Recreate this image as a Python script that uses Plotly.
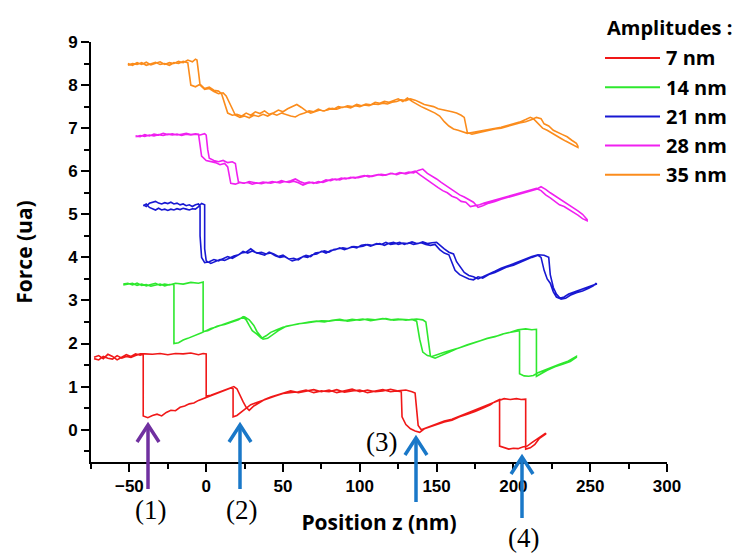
import plotly.graph_objects as go

# ---------------- data ----------------
amplitudes = ["7 nm", "14 nm", "21 nm", "28 nm", "35 nm"]
colors = ["#f01818", "#2ee82e", "#1818d2", "#f020f0", "#fb8c1c"]

# 7 nm : two branches of the hysteresis loop (x in nm, force in ua)
red_a = [(-73,1.68),(-70,1.72),(-67,1.65),(-64,1.75),(-61,1.7),(-58,1.62),(-55,1.68),(-52,1.74),(-49,1.7),(-46,1.76),(-43,1.73),(-41,1.75),
         (-41,0.32),(-38,0.28),(-35,0.33),(-32,0.36),(-29,0.32),(-26,0.4),(-23,0.45),(-20,0.44),(-17,0.52),(-14,0.55),(-11,0.6),(-8,0.62),(-5,0.68),(-2,0.72),
         (1,0.76),(4,0.8),(7,0.84),(10,0.88),(13,0.92),(16,0.97),(17.5,0.95),(17.5,0.3),(20,0.33),(23,0.42),(26,0.5),(29,0.58),(32,0.62),(35,0.66),(38,0.7),(41,0.74),(45,0.78),(50,0.84),
         (55,0.86),(60,0.88),(65,0.92),(70,0.86),(75,0.9),(80,0.88),(85,0.93),(90,0.87),(95,0.9),(100,0.92),(105,0.86),(110,0.9),(115,0.93),(120,0.88),(124,0.9),(127,0.88),
         (127.5,0.3),(130,0.12),(133,0.02),(136,-0.03),(139,-0.06),(142,0.02),(145,0.06),(150,0.12),(155,0.18),(160,0.22),(165,0.3),(170,0.36),(175,0.42),(180,0.5),(185,0.58),(188,0.65),(191,0.7),
         (191,-0.38),(194,-0.42),(197,-0.45),(200,-0.43),(203,-0.44),(206,-0.4),(209,-0.38),(212,-0.3),(215,-0.22),(218,-0.15),(221,-0.08)]
red_b = [(-73,1.65),(-70,1.62),(-67,1.7),(-64,1.66),(-61,1.64),(-58,1.72),(-55,1.66),(-52,1.7),(-49,1.68),(-46,1.72),(-43,1.76),(-40,1.76),(-35,1.75),(-30,1.77),(-25,1.74),(-20,1.77),(-15,1.76),(-10,1.78),(-5,1.74),(-2,1.77),(0,1.76),
         (0,0.78),(3,0.8),(6,0.84),(9,0.88),(12,0.92),(15,0.96),(18,1.0),(20,0.95),(22,0.8),(24,0.65),(26,0.52),(28,0.45),(31,0.55),(34,0.62),(38,0.7),(42,0.76),(46,0.8),(50,0.85),
         (55,0.9),(60,0.86),(65,0.9),(70,0.93),(75,0.88),(80,0.92),(85,0.86),(90,0.9),(95,0.94),(100,0.88),(105,0.92),(110,0.88),(115,0.9),(120,0.94),(125,0.9),(130,0.92),(134,0.88),(136,0.85),
         (137,0.5),(138,0.1),(140,0.0),(143,0.04),(146,0.08),(150,0.13),(155,0.2),(160,0.24),(165,0.32),(170,0.38),(175,0.45),(180,0.52),(185,0.6),(190,0.67),(194,0.72),(198,0.7),(202,0.72),(205,0.7),(208,0.71),
         (208,-0.45),(211,-0.42),(214,-0.34),(217,-0.2),(221,-0.1)]

# 14 nm
green_a = [(-54,3.38),(-51,3.4),(-48,3.36),(-45,3.4),(-42,3.35),(-39,3.37),(-36,3.33),(-33,3.36),(-30,3.38),(-27,3.34),(-24,3.37),(-21,3.38),
           (-21,2.0),(-18,2.02),(-15,2.08),(-12,2.12),(-9,2.16),(-6,2.2),(-3,2.25),(0,2.3),(3,2.35),(6,2.38),(9,2.42),(12,2.44),(15,2.48),(18,2.52),(21,2.55),(24,2.62),
           (26,2.55),(28,2.42),(30,2.3),(33,2.22),(36,2.12),(39,2.18),(42,2.26),(46,2.32),(50,2.38),(55,2.42),(60,2.46),(65,2.48),(70,2.5),(75,2.53),(80,2.52),(85,2.55),(90,2.53),
           (95,2.56),(100,2.54),(105,2.57),(110,2.55),(115,2.58),(120,2.55),(125,2.57),(130,2.54),(134,2.56),(137,2.52),(139,2.1),(141,1.8),(144,1.72),(147,1.7),(150,1.74),
           (155,1.8),(160,1.85),(165,1.9),(170,1.97),(175,2.02),(180,2.08),(185,2.14),(190,2.18),(195,2.24),(200,2.28),(204,2.3),
           (204,1.3),(207,1.25),(210,1.24),(213,1.26),(216,1.32),(220,1.38),(225,1.45),(230,1.52),(235,1.58),(241,1.7)]
green_b = [(-54,3.36),(-51,3.38),(-48,3.4),(-45,3.35),(-42,3.38),(-39,3.34),(-36,3.37),(-33,3.4),(-30,3.35),(-27,3.38),(-24,3.36),(-20,3.4),(-15,3.38),(-10,3.42),(-5,3.4),(-2,3.43),
           (-2,2.28),(1,2.3),(4,2.34),(7,2.4),(10,2.43),(13,2.46),(16,2.5),(19,2.54),(22,2.58),(25,2.62),(28,2.55),(31,2.42),(33,2.28),(35,2.18),(37,2.1),(40,2.12),(43,2.2),(47,2.3),
           (52,2.4),(57,2.44),(62,2.47),(67,2.5),(72,2.52),(77,2.5),(82,2.54),(87,2.56),(92,2.52),(97,2.55),(102,2.57),(107,2.53),(112,2.56),(117,2.58),(122,2.54),(127,2.56),(132,2.55),
           (137,2.57),(141,2.55),(143,2.5),(145,2.0),(146,1.7),(149,1.66),(153,1.72),(158,1.8),(163,1.88),(168,1.94),(173,2.0),(178,2.06),(183,2.12),(188,2.16),(193,2.22),(198,2.26),
           (203,2.32),(208,2.34),(212,2.32),(215,2.33),(215,1.24),(218,1.3),(222,1.38),(227,1.46),(232,1.52),(237,1.58),(241,1.68)]

# 21 nm
blue_a = [(-41,5.22),(-39,5.18),(-37,5.26),(-35,5.28),(-33,5.3),(-31,5.26),(-29,5.24),(-27,5.27),(-25,5.25),(-23,5.28),(-21,5.24),(-19,5.26),(-17,5.22),(-15,5.24),(-13,5.2),(-11,5.22),(-9,5.18),(-7,5.22),(-5,5.24),(-4,5.18),
          (-4,4.5),(-3,4.0),(-1,3.88),(2,3.9),(5,3.95),(8,3.92),(11,3.98),(14,4.02),(17,3.98),(20,4.05),(23,4.1),(26,4.12),(29,4.2),(32,4.12),(35,4.08),(38,4.05),(41,4.12),(44,4.08),(47,4.02),
          (50,4.05),(53,3.98),(56,3.92),(59,3.95),(62,4.0),(65,4.05),(68,4.02),(71,4.1),(74,4.12),(77,4.15),(80,4.12),(83,4.18),(86,4.2),(89,4.22),(92,4.2),(95,4.25),(98,4.22),(101,4.28),
          (104,4.3),(107,4.26),(110,4.3),(113,4.32),(116,4.28),(119,4.33),(122,4.35),(125,4.3),(128,4.33),(131,4.32),(134,4.36),(137,4.32),(140,4.34),(143,4.3),(146,4.28),(149,4.3),
          (152,4.18),(155,4.1),(158,4.06),(160,3.9),(162,3.7),(165,3.6),(168,3.55),(171,3.5),(174,3.48),(177,3.55),(180,3.52),(184,3.6),(188,3.65),(192,3.72),(196,3.78),(200,3.82),
          (204,3.88),(208,3.95),(212,4.0),(216,4.05),(218,4.0),(220,3.7),(222,3.5),(224,3.4),(226,3.2),(228,3.08),(230,3.05),(233,3.08),(236,3.15),(240,3.2),(244,3.25),(248,3.3),(251,3.35),(254,3.38)]
blue_b = [(-41,5.2),(-39,5.24),(-37,5.16),(-35,5.13),(-33,5.1),(-31,5.14),(-29,5.1),(-27,5.12),(-25,5.09),(-23,5.12),(-21,5.1),(-19,5.13),(-17,5.11),(-15,5.14),(-13,5.12),(-11,5.1),(-9,5.13),(-7,5.12),(-5,5.18),(-3,5.25),(-1,5.22),
          (-1,4.2),(0,3.92),(3,3.86),(6,3.9),(9,3.95),(12,3.93),(15,3.98),(18,4.03),(21,4.06),(24,4.14),(27,4.1),(30,4.15),(33,4.1),(36,4.12),(39,4.08),(42,4.1),(45,4.04),(48,4.0),(51,4.02),
          (54,3.96),(57,3.98),(60,3.94),(63,4.02),(66,4.0),(69,4.06),(72,4.08),(75,4.14),(78,4.1),(81,4.16),(84,4.18),(87,4.22),(90,4.18),(93,4.22),(96,4.25),(99,4.24),(102,4.26),(105,4.3),
          (108,4.28),(111,4.32),(114,4.3),(117,4.35),(120,4.3),(123,4.32),(126,4.35),(129,4.3),(132,4.34),(135,4.3),(138,4.32),(141,4.36),(144,4.32),(147,4.34),(150,4.35),(152,4.3),(155,4.2),
          (158,4.12),(161,4.08),(163,3.9),(166,3.75),(168,3.65),(171,3.58),(174,3.55),(177,3.5),(180,3.56),(184,3.62),(188,3.68),(192,3.75),(196,3.8),(200,3.85),(204,3.9),(208,3.96),(212,4.02),
          (216,4.06),(220,4.05),(223,4.0),(224,3.6),(226,3.3),(228,3.15),(231,3.03),(234,3.05),(237,3.12),(241,3.18),(245,3.22),(249,3.28),(252,3.34),(254,3.4)]

# 28 nm
magenta_a = [(-46,6.82),(-43,6.8),(-40,6.85),(-37,6.82),(-34,6.86),(-31,6.84),(-28,6.88),(-25,6.85),(-22,6.87),(-19,6.84),(-16,6.86),(-13,6.88),(-10,6.85),(-7,6.87),(-5,6.86),
             (-4,6.6),(-3,6.35),(0,6.25),(3,6.22),(6,6.2),(9,6.15),(12,6.18),(14,6.1),(15,5.9),(16,5.72),(19,5.7),(22,5.74),(25,5.72),(28,5.76),(31,5.74),(34,5.72),(37,5.75),(40,5.73),
             (43,5.76),(46,5.74),(49,5.78),(52,5.75),(55,5.78),(58,5.82),(61,5.76),(64,5.72),(67,5.75),(70,5.72),(73,5.76),(76,5.74),(79,5.78),(82,5.82),(85,5.8),(88,5.84),(91,5.82),
             (94,5.86),(97,5.84),(100,5.88),(103,5.9),(106,5.87),(109,5.9),(112,5.92),(115,5.9),(118,5.93),(121,5.95),(124,5.92),(127,5.96),(130,5.94),(133,5.97),(136,6.0),(139,5.92),
             (142,5.85),(145,5.78),(148,5.7),(151,5.62),(154,5.55),(157,5.5),(160,5.42),(163,5.38),(166,5.3),(169,5.28),(172,5.18),(175,5.2),(178,5.22),(181,5.26),(185,5.3),(189,5.34),
             (193,5.38),(197,5.42),(201,5.46),(205,5.5),(209,5.55),(212,5.58),(215,5.6),(218,5.55),(221,5.45),(224,5.38),(227,5.3),(230,5.22),(233,5.18),(236,5.12),(239,5.05),(242,4.98),(245,4.9),(248,4.85)]
magenta_b = [(-46,6.8),(-43,6.83),(-40,6.81),(-37,6.84),(-34,6.82),(-31,6.85),(-28,6.83),(-25,6.86),(-22,6.84),(-19,6.86),(-16,6.83),(-13,6.86),(-10,6.84),(-7,6.86),(-4,6.84),(-1,6.87),(0,6.84),
             (1,6.5),(2,6.3),(5,6.25),(8,6.22),(11,6.25),(14,6.2),(17,6.22),(19,6.18),(20,5.95),(21,5.75),(24,5.72),(27,5.74),(30,5.7),(33,5.73),(36,5.71),(39,5.74),(42,5.72),(45,5.75),
             (48,5.73),(51,5.76),(54,5.74),(57,5.77),(60,5.73),(63,5.68),(66,5.72),(69,5.74),(72,5.72),(75,5.75),(78,5.8),(81,5.78),(84,5.82),(87,5.8),(90,5.84),(93,5.83),(96,5.86),
             (99,5.85),(102,5.88),(105,5.9),(108,5.88),(111,5.91),(114,5.93),(117,5.91),(120,5.95),(123,5.93),(126,5.97),(129,5.95),(132,5.98),(135,5.96),(138,6.02),(141,6.05),(144,5.95),
             (147,5.88),(150,5.82),(153,5.74),(156,5.68),(159,5.6),(162,5.52),(165,5.45),(168,5.4),(171,5.35),(174,5.28),(177,5.16),(180,5.2),(184,5.26),(188,5.3),(192,5.35),(196,5.4),
             (200,5.44),(204,5.48),(208,5.52),(212,5.55),(215,5.58),(218,5.64),(221,5.58),(224,5.5),(227,5.42),(230,5.34),(233,5.28),(236,5.2),(239,5.15),(242,5.08),(245,5.0),(248,4.88)]

# 35 nm
orange_a = [(-51,8.46),(-48,8.5),(-45,8.48),(-42,8.52),(-39,8.46),(-36,8.5),(-33,8.53),(-30,8.48),(-27,8.5),(-24,8.46),(-21,8.52),(-18,8.5),(-15,8.55),(-12,8.52),
            (-11,8.2),(-10,8.0),(-7,7.96),(-4,8.02),(-1,7.92),(2,7.95),(5,7.88),(8,7.86),(10,7.8),(12,7.6),(14,7.35),(17,7.3),(20,7.32),(23,7.28),(26,7.35),(29,7.3),(32,7.38),
            (35,7.34),(38,7.4),(41,7.32),(44,7.36),(47,7.42),(50,7.38),(53,7.45),(56,7.5),(59,7.55),(62,7.48),(65,7.4),(68,7.35),(71,7.38),(74,7.42),(77,7.4),(80,7.46),(83,7.44),
            (86,7.5),(89,7.48),(92,7.52),(95,7.5),(98,7.55),(101,7.52),(104,7.56),(107,7.54),(110,7.6),(113,7.58),(116,7.62),(119,7.6),(122,7.64),(125,7.68),(128,7.62),(131,7.7),
            (134,7.62),(137,7.55),(140,7.5),(143,7.45),(146,7.4),(149,7.35),(152,7.28),(155,7.15),(158,7.05),(161,6.98),(164,6.95),(167,6.92),(170,6.88),(173,6.9),(176,6.92),(180,6.94),
            (184,6.96),(188,7.0),(192,7.02),(196,7.06),(200,7.1),(204,7.14),(208,7.2),(211,7.25),(213,7.22),(216,7.1),(219,7.0),(222,6.95),(225,6.88),(228,6.82),(231,6.76),(234,6.7),
            (237,6.65),(240,6.6),(242,6.55)]
orange_b = [(-51,8.5),(-48,8.46),(-45,8.52),(-42,8.48),(-39,8.53),(-36,8.47),(-33,8.5),(-30,8.54),(-27,8.48),(-24,8.52),(-21,8.5),(-18,8.55),(-15,8.52),(-12,8.58),(-9,8.54),(-7,8.6),(-6,8.58),
            (-5,8.3),(-4,8.0),(-1,7.9),(2,7.92),(5,7.85),(8,7.8),(11,7.82),(13,7.75),(15,7.6),(17,7.45),(19,7.3),(22,7.25),(25,7.28),(28,7.24),(31,7.3),(34,7.27),(37,7.32),(40,7.28),
            (43,7.34),(46,7.3),(49,7.35),(52,7.32),(55,7.28),(58,7.26),(61,7.32),(64,7.35),(67,7.4),(70,7.38),(73,7.44),(76,7.4),(79,7.42),(82,7.46),(85,7.44),(88,7.48),(91,7.5),
            (94,7.47),(97,7.52),(100,7.5),(103,7.54),(106,7.52),(109,7.56),(112,7.55),(115,7.58),(118,7.56),(121,7.6),(124,7.62),(127,7.66),(130,7.64),(133,7.68),(136,7.65),(139,7.6),
            (142,7.55),(145,7.52),(148,7.5),(151,7.45),(154,7.42),(157,7.4),(160,7.38),(163,7.35),(166,7.3),(168,7.25),(169,7.05),(170,6.9),(173,6.86),(176,6.9),(180,6.92),(184,6.95),
            (188,6.98),(192,7.0),(196,7.04),(200,7.08),(204,7.12),(208,7.15),(212,7.2),(215,7.25),(218,7.22),(220,7.1),(223,7.05),(226,6.95),(229,6.9),(232,6.85),(235,6.8),(238,6.72),
            (241,6.65),(242,6.58)]

branches = [(red_a, red_b), (green_a, green_b), (blue_a, blue_b), (magenta_a, magenta_b), (orange_a, orange_b)]

legend_title = "Amplitudes :"
marker_labels = ["(1)", "(2)", "(3)", "(4)"]

# ---------------- figure ----------------
# the page body adds an 8 px margin, so the canvas is 8 px smaller than the window
OFF = 8
W, H = 735, 547
L, R, T, B = 83, 76, 34, 93
PW, PH = W - L - R, H - T - B

def pxx(px):   # screen pixel -> paper x
    return (px - OFF - L) / PW

def pxy(py):   # screen pixel -> paper y
    return (H - B - (py - OFF)) / PH

fig = go.Figure()
for name, col, (a, b) in zip(amplitudes, colors, branches):
    loop = a + b[::-1]
    fig.add_trace(go.Scatter(
        x=[p[0] for p in loop], y=[p[1] for p in loop],
        mode="lines", name=name, showlegend=False,
        line=dict(color=col, width=1.6),
    ))

shapes = []
annotations = []

# hand-made legend (long line samples, as in the reference)
legend_font = dict(family="Open Sans", size=20, color="black", weight="bold")
annotations.append(dict(text=legend_title, xref="paper", yref="paper", x=pxx(605), y=pxy(28),
                        xanchor="left", yanchor="middle", showarrow=False,
                        font=dict(family="Open Sans", size=20, color="black", weight="bold")))
for i, (name, col) in enumerate(zip(amplitudes, colors)):
    py = 58 + i * 29.2
    shapes.append(dict(type="line", xref="paper", yref="paper",
                       x0=pxx(605), x1=pxx(660), y0=pxy(py), y1=pxy(py),
                       line=dict(color=col, width=2)))
    annotations.append(dict(text=name, xref="paper", yref="paper", x=pxx(664), y=pxy(py),
                            xanchor="left", yanchor="middle", showarrow=False, font=legend_font))

# arrows (drawn as open chevron arrows)
arrow_specs = [(148, 425, 489, "#7030a0"), (240, 425, 489, "#1a78c8"),
               (416, 438, 502, "#1a78c8"), (522, 457, 518, "#1a78c8")]
for px, tip, tail, col in arrow_specs:
    shapes.append(dict(type="line", xref="paper", yref="paper",
                       x0=pxx(px), x1=pxx(px), y0=pxy(tail), y1=pxy(tip + 2),
                       line=dict(color=col, width=3.5)))
    path = "M {:.4f},{:.4f} L {:.4f},{:.4f} L {:.4f},{:.4f}".format(
        pxx(px - 11), pxy(tip + 17), pxx(px), pxy(tip), pxx(px + 11), pxy(tip + 17))
    shapes.append(dict(type="path", xref="paper", yref="paper", path=path,
                       line=dict(color=col, width=3.5)))

label_pos = [(150, 510), (241, 510), (381, 442), (523, 538)]
for txt, (px, py) in zip(marker_labels, label_pos):
    annotations.append(dict(text=txt, xref="paper", yref="paper", x=pxx(px), y=pxy(py),
                            xanchor="center", yanchor="middle", showarrow=False,
                            font=dict(family="Liberation Serif", size=27, color="black")))

tickfont = dict(family="Liberation Sans", size=17, color="black", weight="bold")
titlefont = dict(family="Open Sans", size=21, color="black", weight="bold")

fig.update_layout(
    width=W, height=H,
    margin=dict(l=L, r=R, t=T, b=B, autoexpand=False),
    paper_bgcolor="white", plot_bgcolor="white",
    showlegend=False,
    shapes=shapes, annotations=annotations,
    xaxis=dict(
        range=[-75, 300], showline=True, linecolor="black", linewidth=2,
        ticks="outside", ticklen=8, tickwidth=2, tickcolor="black",
        tick0=0, dtick=50, showgrid=False, zeroline=False, automargin=False,
        minor=dict(ticks="outside", ticklen=5, tickwidth=2, tickcolor="black", dtick=25, showgrid=False),
        tickfont=tickfont,
        title=dict(text="Position z (nm)", font=titlefont, standoff=20),
    ),
    yaxis=dict(
        range=[-0.75, 9], showline=True, linecolor="black", linewidth=2,
        ticks="outside", ticklen=8, tickwidth=2, tickcolor="black",
        tick0=0, dtick=1, showgrid=False, zeroline=False, automargin=False,
        minor=dict(ticks="outside", ticklen=5, tickwidth=2, tickcolor="black", dtick=0.5, showgrid=False),
        tickfont=tickfont,
        title=dict(text="Force (ua)", font=titlefont, standoff=30),
    ),
)

fig.write_html("out.html")
